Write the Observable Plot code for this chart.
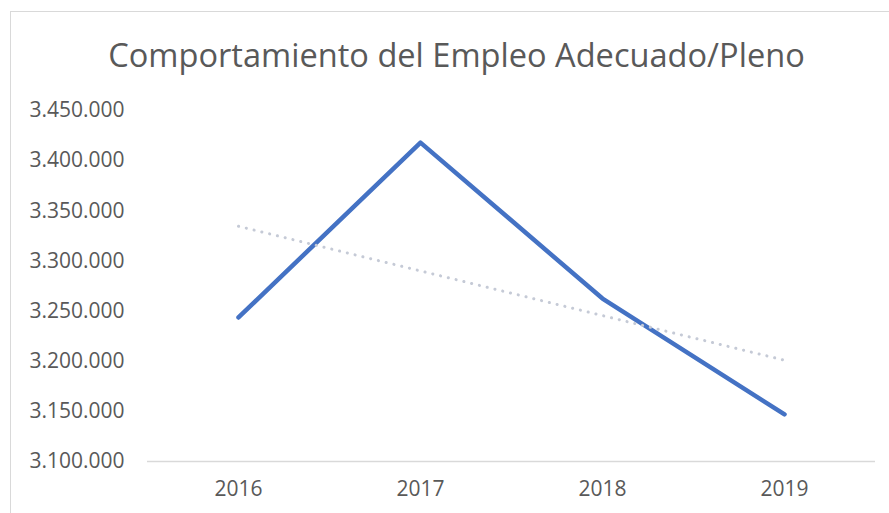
<!DOCTYPE html>
<html>
<head>
<meta charset="utf-8">
<script src="https://cdn.jsdelivr.net/npm/d3@7"></script>
<script src="https://cdn.jsdelivr.net/npm/@observablehq/plot@0.6"></script>
<style>
  html, body { margin: 0; padding: 0; background: #fff; width: 889px; height: 513px; overflow: hidden; }
  #frame { position: absolute; left: 10px; top: 11px; width: 900px; height: 600px; border: 1.5px solid #d9d9d9; box-sizing: border-box; }
  #title { position: absolute; left: 0; top: 32px; width: 913px; text-align: center; font-family: "Open Sans", sans-serif; font-size: 32.6px; color: #595959; white-space: nowrap; }
  #chart { position: absolute; left: 0; top: 90px; }
</style>
</head>
<body>
<div id="frame"></div>
<div id="title">Comportamiento del Empleo Adecuado/Pleno</div>
<div id="chart"></div>
<script>
const years = [2016, 2017, 2018, 2019];
const empleo = [3243600, 3418000, 3262500, 3147000];
const yTicks = [3100000, 3150000, 3200000, 3250000, 3300000, 3350000, 3400000, 3450000];

const data = years.map((y, i) => ({year: y, value: empleo[i]}));
const fmt = d3.formatLocale({decimal: ",", thousands: ".", grouping: [3], currency: ["", ""]}).format(",d");

const chart = Plot.plot({
  width: 889,
  height: 423,
  marginLeft: 147,
  marginRight: 14,
  marginTop: 20,
  marginBottom: 52,
  style: {fontFamily: "Open Sans, sans-serif", fontSize: "21px", color: "#595959", background: "transparent"},
  x: {type: "linear", domain: [2015.5, 2019.5], ticks: years, tickFormat: d => String(d), tickSize: 0, tickPadding: 20, label: null},
  y: {domain: [3100000, 3450000], ticks: yTicks, tickFormat: fmt, tickSize: 0, tickPadding: 23, label: null},
  marks: [
    Plot.ruleY([3100000], {stroke: "#d9d9d9", strokeWidth: 1.5}),
    Plot.line(data, {x: "year", y: "value", stroke: "#4472C4", strokeWidth: 4.5, strokeLinecap: "round", strokeLinejoin: "round"}),
    Plot.linearRegressionY(data, {x: "year", y: "value", ci: 0, stroke: "#c5cad6", strokeWidth: 3, strokeLinecap: "round", strokeDasharray: "0.1,7.9"})
  ]
});
document.getElementById("chart").appendChild(chart);
</script>
</body>
</html>
